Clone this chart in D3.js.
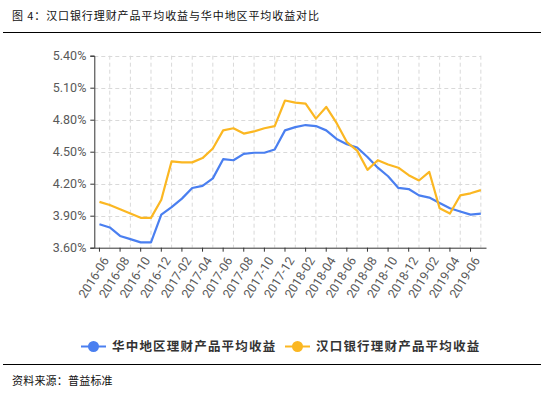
<!DOCTYPE html>
<html>
<head>
<meta charset="utf-8">
<script src="https://cdn.jsdelivr.net/npm/d3@7"></script>
<style>
  body { margin: 0; background: #fff; }
  svg { display: block; }
</style>
</head>
<body>
<div id="viz"></div>
<script>
// monthly categories, 2016-06 .. 2019-07
const months = [
  "2016-06","2016-07","2016-08","2016-09","2016-10","2016-11","2016-12",
  "2017-01","2017-02","2017-03","2017-04","2017-05","2017-06","2017-07",
  "2017-08","2017-09","2017-10","2017-11","2017-12",
  "2018-01","2018-02","2018-03","2018-04","2018-05","2018-06","2018-07",
  "2018-08","2018-09","2018-10","2018-11","2018-12",
  "2019-01","2019-02","2019-03","2019-04","2019-05","2019-06","2019-07"
];

// 华中地区理财产品平均收益 (%)
const central = [
  3.82, 3.79, 3.71, 3.68, 3.65, 3.65, 3.91, 3.98, 4.06, 4.16,
  4.18, 4.25, 4.43, 4.42, 4.48, 4.49, 4.49, 4.52, 4.70, 4.73,
  4.75, 4.74, 4.70, 4.62, 4.57, 4.54, 4.45, 4.35, 4.27, 4.16,
  4.15, 4.09, 4.07, 4.02, 3.97, 3.94, 3.91, 3.92
];

// 汉口银行理财产品平均收益 (%)
const hankou = [
  4.03, 4.00, 3.96, 3.92, 3.88, 3.88, 4.05, 4.41, 4.40, 4.40,
  4.44, 4.53, 4.70, 4.72, 4.67, 4.69, 4.72, 4.74, 4.98, 4.96,
  4.95, 4.81, 4.92, 4.77, 4.59, 4.51, 4.33, 4.42, 4.38, 4.35,
  4.28, 4.23, 4.31, 3.97, 3.92, 4.09, 4.11, 4.14
];

const yTicks = [3.6, 3.9, 4.2, 4.5, 4.8, 5.1, 5.4];

const seriesNames = ["华中地区理财产品平均收益", "汉口银行理财产品平均收益"];
const seriesColors = ["#4a7ff0", "#fbb722"];

const width = 541, height = 399;
const cjk = "'Noto Sans CJK SC', sans-serif";

const svg = d3.select("#viz").append("svg")
  .attr("width", width)
  .attr("height", height);

// title + rules
svg.append("text")
  .attr("x", 12).attr("y", 20)
  .attr("font-family", cjk)
  .attr("font-size", 11)
  .attr("letter-spacing", 0.9)
  .attr("fill", "#111")
  .text("图 4：汉口银行理财产品平均收益与华中地区平均收益对比");

svg.append("line")
  .attr("x1", 3).attr("x2", width)
  .attr("y1", 32.5).attr("y2", 32.5)
  .attr("stroke", "#000").attr("stroke-width", 1.2);

svg.append("line")
  .attr("x1", 3).attr("x2", width)
  .attr("y1", 364.5).attr("y2", 364.5)
  .attr("stroke", "#000").attr("stroke-width", 1.2);

svg.append("text")
  .attr("x", 12).attr("y", 385)
  .attr("font-family", cjk)
  .attr("font-size", 11)
  .attr("letter-spacing", 0.2)
  .attr("fill", "#111")
  .text("资料来源：普益标准");

// scales
const x = d3.scaleBand()
  .domain(months)
  .range([94.3, 486])
  .padding(0);

const y = d3.scaleLinear()
  .domain([3.6, 5.4])
  .range([247.7, 55.7]);

const cx = m => x(m) + x.bandwidth() / 2;
const gridRight = cx(months[months.length - 1]);

// grid
const grid = svg.append("g")
  .attr("stroke", "#d9d9d9")
  .attr("stroke-dasharray", "4,3")
  .attr("stroke-width", 1);

grid.selectAll("line.h")
  .data(yTicks.slice(1))
  .enter().append("line")
  .attr("x1", 94.3).attr("x2", gridRight)
  .attr("y1", d => Math.round(y(d)) + 0.5)
  .attr("y2", d => Math.round(y(d)) + 0.5);

grid.selectAll("line.v")
  .data(months.filter((m, i) => i % 2 === 1))
  .enter().append("line")
  .attr("x1", d => cx(d)).attr("x2", d => cx(d))
  .attr("y1", y(5.4)).attr("y2", y(3.6));

// y axis
const yAxis = svg.append("g")
  .attr("transform", "translate(94.3,0)")
  .call(d3.axisLeft(y)
    .tickValues(yTicks)
    .tickSize(4)
    .tickFormat(d => d.toFixed(2) + "%"));
yAxis.select(".domain").attr("stroke", "#333");
yAxis.selectAll(".tick line").attr("stroke", "#333");
yAxis.selectAll("text")
  .attr("font-family", "Roboto, sans-serif")
  .attr("font-size", 12.5)
  .attr("fill", "#595959")
  .attr("x", -8);

// x axis
const xAxis = svg.append("g")
  .attr("transform", `translate(0,${y(3.6)})`)
  .call(d3.axisBottom(x)
    .tickValues(months.filter((m, i) => i % 2 === 0))
    .tickSize(4)
    .tickSizeOuter(0));
xAxis.select(".domain").attr("stroke", "#333");
xAxis.selectAll(".tick line").attr("stroke", "#333");
xAxis.selectAll("text")
  .attr("font-family", "Roboto, sans-serif")
  .attr("font-size", 12.5)
  .attr("fill", "#595959")
  .attr("text-anchor", "end")
  .attr("dx", 0).attr("dy", 0)
  .attr("transform", "translate(4,9) rotate(-58)");

// lines
const line = d3.line()
  .x((d, i) => cx(months[i]))
  .y(d => y(d));

[central, hankou].forEach((s, k) => {
  svg.append("path")
    .datum(s)
    .attr("d", line)
    .attr("fill", "none")
    .attr("stroke", seriesColors[k])
    .attr("stroke-width", 2.2)
    .attr("stroke-linejoin", "round");
});

// legend
const legendX = [81, 285];
seriesNames.forEach((name, k) => {
  const g = svg.append("g").attr("transform", `translate(${legendX[k]},346.5)`);
  g.append("line")
    .attr("x1", 0).attr("x2", 25)
    .attr("stroke", seriesColors[k]).attr("stroke-width", 2);
  g.append("circle")
    .attr("cx", 12.5).attr("cy", 0).attr("r", 5.5)
    .attr("fill", seriesColors[k]);
  g.append("text")
    .attr("x", 31).attr("y", 4.5)
    .attr("font-family", cjk)
    .attr("font-size", 12.5)
    .attr("font-weight", "bold")
    .attr("letter-spacing", 1.2)
    .attr("fill", "#333")
    .text(name);
});
</script>
</body>
</html>
